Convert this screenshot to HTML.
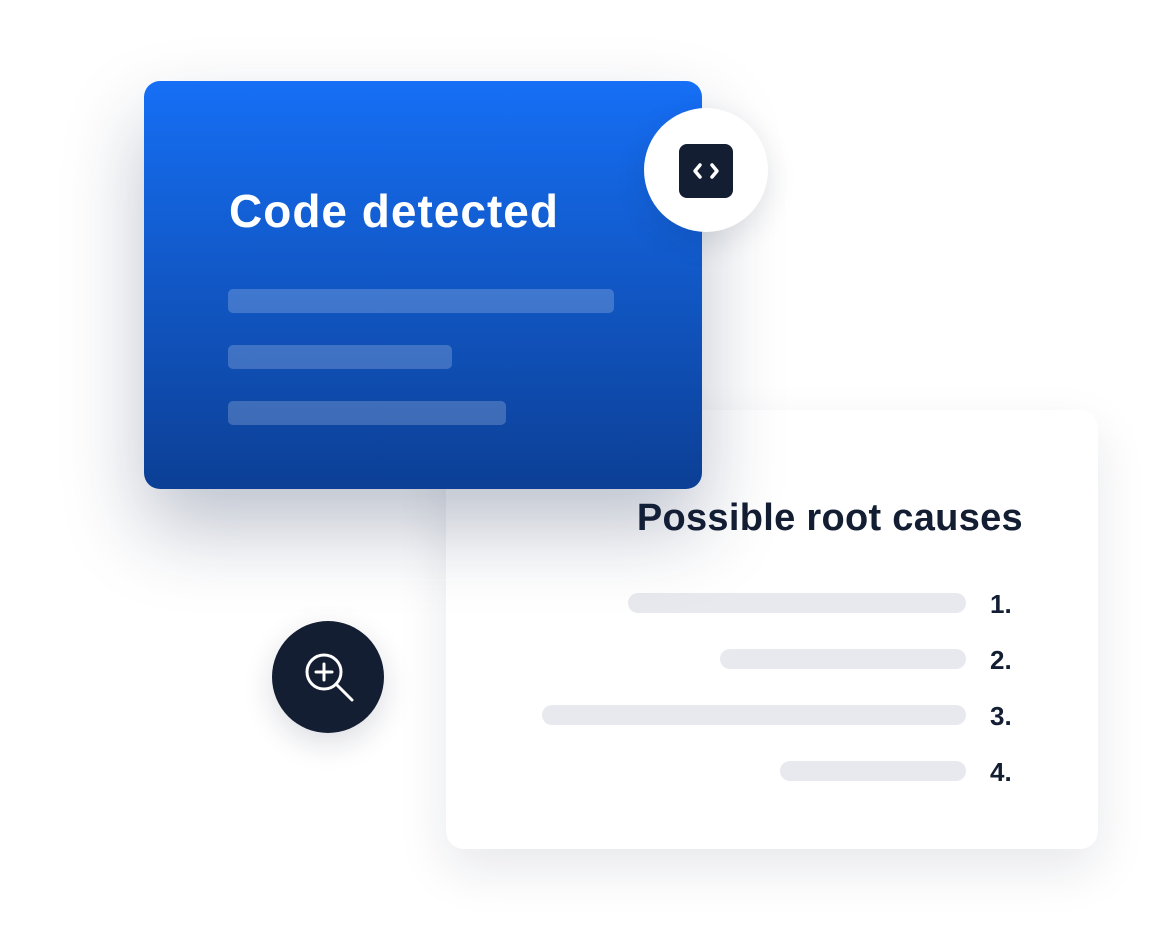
<!DOCTYPE html>
<html><head><style>
body{margin:0;width:1162px;height:945px;background:#fff;position:relative;overflow:hidden;font-family:"Liberation Sans",sans-serif}
.w{position:absolute;left:446px;top:410px;width:652px;height:439px;background:#fff;border-radius:18px;box-shadow:0 20px 50px rgba(20,30,60,0.10)}
.b{position:absolute;left:144px;top:81px;width:558px;height:408px;border-radius:16px;background:linear-gradient(#166ff5,#0c3f95);box-shadow:0 40px 80px rgba(20,40,80,0.28)}
.b h1{position:absolute;left:85px;top:103px;margin:0;font-size:46px;font-weight:bold;color:#fff;letter-spacing:1px}
.bar{position:absolute;height:24px;border-radius:5px;background:rgba(255,255,255,0.2)}
.g{position:absolute;height:20px;border-radius:10px;background:#e8e9ee}
.n{position:absolute;left:990px;font-size:26px;font-weight:bold;color:#131e33}
.t{position:absolute;right:139px;top:497px;font-size:38px;font-weight:bold;color:#131e33;letter-spacing:0.3px}
.c1{position:absolute;left:644px;top:108px;width:124px;height:124px;border-radius:50%;background:#fff;box-shadow:0 10px 30px rgba(20,30,60,0.12)}
.c2{position:absolute;left:272px;top:621px;width:112px;height:112px;border-radius:50%;background:#131e33;box-shadow:0 10px 30px rgba(20,30,60,0.15)}
</style></head><body>
<div class="w"></div>
<div class="t">Possible root causes</div>
<div class="g" style="left:628px;top:593px;width:338px"></div>
<div class="g" style="left:720px;top:649px;width:246px"></div>
<div class="g" style="left:542px;top:705px;width:424px"></div>
<div class="g" style="left:780px;top:761px;width:186px"></div>
<div class="n" style="top:589px">1.</div>
<div class="n" style="top:645px">2.</div>
<div class="n" style="top:701px">3.</div>
<div class="n" style="top:757px">4.</div>
<div class="b"><h1>Code detected</h1>
<div class="bar" style="left:84px;top:208px;width:386px"></div>
<div class="bar" style="left:84px;top:264px;width:224px"></div>
<div class="bar" style="left:84px;top:320px;width:278px"></div>
</div>
<div class="c1"><svg width="124" height="124"><rect x="35" y="36" width="54" height="54" rx="8" fill="#131e33"/><path d="M56 57l-5 6 5 6M68 57l5 6-5 6" stroke="#fff" stroke-width="3.5" fill="none" stroke-linecap="round" stroke-linejoin="round"/></svg></div>
<div class="c2"><svg width="112" height="112"><circle cx="52" cy="51" r="17" stroke="#fff" stroke-width="3" fill="none"/><path d="M52 43v16M44 51h16M64 63l16 16" stroke="#fff" stroke-width="3" stroke-linecap="round"/></svg></div>
</body></html>
